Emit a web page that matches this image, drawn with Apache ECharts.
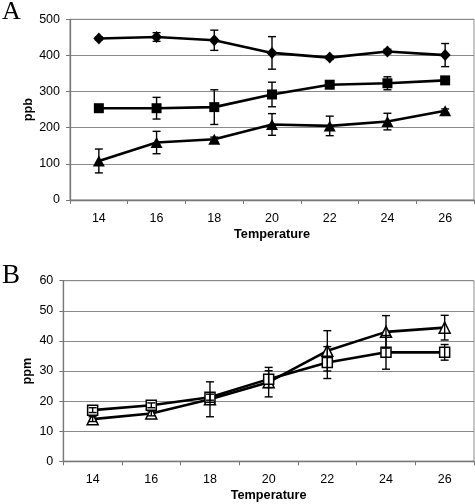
<!DOCTYPE html>
<html>
<head>
<meta charset="utf-8">
<script src="https://cdn.jsdelivr.net/npm/echarts@6/dist/echarts.min.js"></script>
<style>
html,body{margin:0;padding:0;background:#fff;}
#c{width:475px;height:504px;}
</style>
</head>
<body>
<div id="c"></div>
<script>
// ---- data ----
var tempCats = ['14', '16', '18', '20', '22', '24', '26'];

// Panel A (ppb)
var ppbDiamond = [447, 451, 442, 407, 394, 411, 401];
var ppbDiamondErr = [4, 12, 28, 45, 5, 6, 32];
var ppbSquare = [254, 254, 257, 292, 319, 323, 331];
var ppbSquareErr = [4, 30, 48, 34, 6, 18, 4];
var ppbTriangle = [108, 159, 168, 209, 205, 217, 247];
var ppbTriangleErr = [33, 31, 6, 30, 27, 23, 5];
var ppbTicks = [0, 100, 200, 300, 400, 500];

// Panel B (ppm)
var ppmSquare = [17.0, 18.6, 21.3, 27.3, 32.8, 36.2, 36.2];
var ppmSquareErr = [0.8, 0.8, 1.0, 2.8, 5.3, 5.6, 2.6];
var ppmTriangle = [14.0, 15.9, 20.6, 26.3, 36.7, 43.0, 44.4];
var ppmTriangleErr = [0.8, 0.8, 5.8, 4.9, 6.7, 5.4, 4.1];
var ppmTicks = [0, 10, 20, 30, 40, 50, 60];

function errData(vals, errs) {
  return vals.map(function (v, i) { return [i, v - errs[i], v + errs[i]]; });
}

function errSeries(xi, yi, vals, errs) {
  return {
    type: 'custom',
    xAxisIndex: xi, yAxisIndex: yi,
    z: 5,
    silent: true,
    data: errData(vals, errs),
    renderItem: function (params, api) {
      var lo = api.coord([api.value(0), api.value(1)]);
      var hi = api.coord([api.value(0), api.value(2)]);
      var hw = 4;
      var st = { stroke: '#000', lineWidth: 1.4 };
      return {
        type: 'group',
        children: [
          { type: 'line', shape: { x1: lo[0], y1: lo[1], x2: hi[0], y2: hi[1] }, style: st },
          { type: 'line', shape: { x1: lo[0] - hw, y1: lo[1], x2: lo[0] + hw, y2: lo[1] }, style: st },
          { type: 'line', shape: { x1: hi[0] - hw, y1: hi[1], x2: hi[0] + hw, y2: hi[1] }, style: st }
        ]
      };
    }
  };
}

function lineSeries(xi, yi, vals, symbol, size, hollow) {
  return {
    type: 'line',
    xAxisIndex: xi, yAxisIndex: yi,
    data: vals,
    symbol: symbol,
    symbolSize: size,
    showAllSymbol: true,
    z: 3,
    lineStyle: { color: '#000', width: 2.6 },
    itemStyle: hollow ? { color: '#fff', borderColor: '#000', borderWidth: 1.5 } : { color: '#000', borderWidth: 0 },
    emphasis: { disabled: true },
    animation: false
  };
}

var FONT = 'Liberation Sans, Arial, sans-serif';

function xAxisDef(gi) {
  return {
    type: 'category', gridIndex: gi, data: tempCats, boundaryGap: true,
    name: 'Temperature', nameLocation: 'middle', nameGap: 28,
    nameTextStyle: { fontFamily: FONT, fontSize: 12.7, fontWeight: 'bold', color: '#000' },
    axisLine: { lineStyle: { color: '#777', width: 1.3 } },
    axisTick: { show: true, length: 4, alignWithLabel: false, lineStyle: { color: '#777' } },
    axisLabel: { fontFamily: FONT, fontSize: 12.5, color: '#000', margin: 12 },
    splitLine: { show: false }
  };
}

function yAxisDef(gi, name, max, interval, gap) {
  return {
    type: 'value', gridIndex: gi, min: 0, max: max, interval: interval,
    name: name, nameLocation: 'middle', nameGap: gap, nameRotate: 90,
    nameMoveOverlap: false,
    nameTextStyle: { fontFamily: FONT, fontSize: 12.7, fontWeight: 'bold', color: '#000' },
    axisLine: { show: true, lineStyle: { color: '#777', width: 1.3 } },
    axisTick: { show: true, length: 4, inside: false, lineStyle: { color: '#777' } },
    axisLabel: { fontFamily: FONT, fontSize: 12.5, color: '#000', margin: 10 },
    splitLine: { show: true, lineStyle: { color: '#8a8a8a', width: 1 } }
  };
}

var chart = echarts.init(document.getElementById('c'), null, { renderer: 'canvas' });
chart.setOption({
  animation: false,
  backgroundColor: '#fff',
  grid: [
    { left: 70, top: 19.3, width: 404, height: 180.7, show: true, borderColor: '#8a8a8a', borderWidth: 1, backgroundColor: 'transparent' },
    { left: 63.3, top: 280.7, width: 410.7, height: 180.6, show: true, borderColor: '#8a8a8a', borderWidth: 1, backgroundColor: 'transparent' }
  ],
  xAxis: [xAxisDef(0), xAxisDef(1)],
  yAxis: [
    yAxisDef(0, 'ppb', ppbTicks[ppbTicks.length - 1], ppbTicks[1] - ppbTicks[0], 35),
    yAxisDef(1, 'ppm', ppmTicks[ppmTicks.length - 1], ppmTicks[1] - ppmTicks[0], 29)
  ],
  graphic: [
    { type: 'text', left: 2, top: -1, style: { text: 'A', font: '26px "Liberation Serif", "Times New Roman", serif', fill: '#000' } },
    { type: 'text', left: 2, top: 262, style: { text: 'B', font: '27px "Liberation Serif", "Times New Roman", serif', fill: '#000' } }
  ],
  series: [
    lineSeries(0, 0, ppbDiamond, 'diamond', [11, 12], false),
    lineSeries(0, 0, ppbSquare, 'rect', 10, false),
    lineSeries(0, 0, ppbTriangle, 'triangle', [12, 11], false),
    errSeries(0, 0, ppbDiamond, ppbDiamondErr),
    errSeries(0, 0, ppbSquare, ppbSquareErr),
    errSeries(0, 0, ppbTriangle, ppbTriangleErr),
    lineSeries(1, 1, ppmTriangle, 'triangle', [11, 11], true),
    lineSeries(1, 1, ppmSquare, 'rect', 10, true),
    errSeries(1, 1, ppmTriangle, ppmTriangleErr),
    errSeries(1, 1, ppmSquare, ppmSquareErr)
  ]
});
</script>
</body>
</html>
